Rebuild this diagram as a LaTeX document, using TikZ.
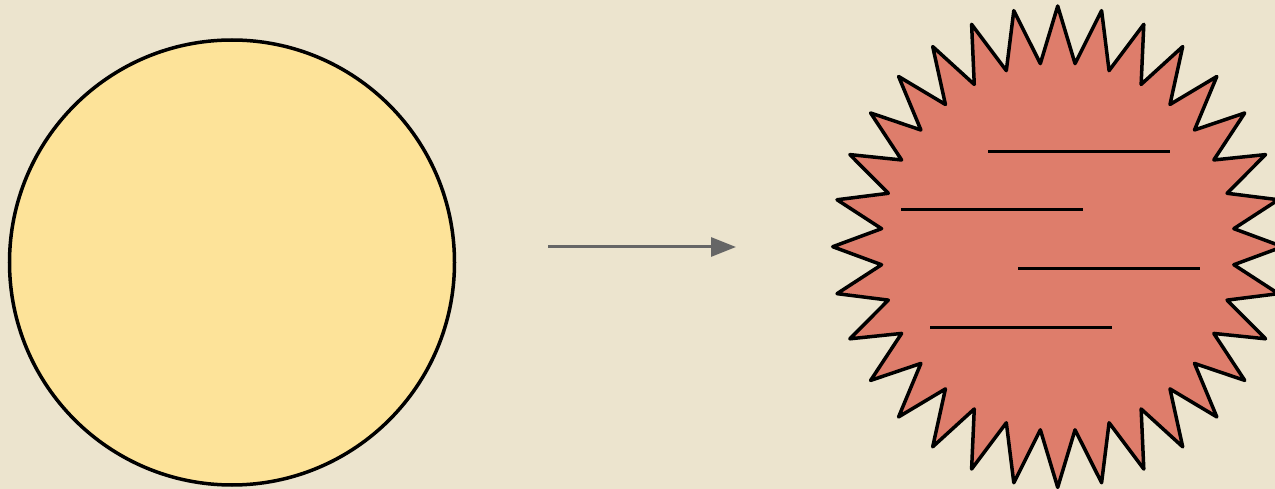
\documentclass[tikz,border=0pt]{standalone}
\usetikzlibrary{arrows.meta}

\definecolor{cpaper}{RGB}{236,228,206}
\definecolor{cyellow}{RGB}{253,227,153}
\definecolor{cred}{RGB}{222,125,107}
\definecolor{cgrey}{RGB}{102,102,102}

\begin{document}
\begin{tikzpicture}[x=1pt,y=-1pt,
        ball/.style={circle,draw=black,fill=cyellow,line width=3.5pt,inner sep=0pt,minimum size=445pt},
        burst/.style={draw=black,fill=cred,line width=3.5pt,line join=round},
        streak/.style={line width=3pt,black},
        flow/.style={draw=cgrey,line width=3pt,-{Triangle[length=25pt,width=19pt]}}]
      \useasboundingbox[fill=cpaper] (0,0) rectangle (1275,489);
      \clip (0,0) rectangle (1275,489);
      \node[ball] (ball) at (232,262.5) {};
      \coordinate (from) at (548,247);
      \coordinate (to) at (736,247);
      \draw[flow] (from) -- (to);
      \begin{scope}[shift={(1057.7,246.7)}]
        \foreach \k in {0,...,31} {
          \coordinate (o\k) at ({90+11.25*\k}:225 and 240.7);
          \coordinate (i\k) at ({95.625+11.25*\k}:177 and 184);
        }
        \draw[burst] (o0) -- (i0) \foreach \k in {1,...,31} {-- (o\k) -- (i\k)} -- cycle;
      \end{scope}
      \foreach \x/\y in {988/152, 901/210, 1018/269, 930/327}
        \draw[streak] (\x,\y) -- ++(182,0);
    \end{tikzpicture}
\end{document}
